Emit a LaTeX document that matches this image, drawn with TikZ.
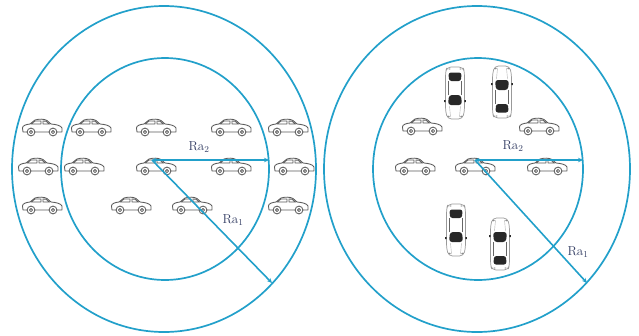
\documentclass[tikz,border=0pt]{standalone}
\usetikzlibrary{arrows.meta}
\definecolor{ringblue}{RGB}{34,160,202}
\definecolor{labelnavy}{RGB}{52,62,100}
\definecolor{cargray}{RGB}{90,90,90}
\definecolor{cardark}{RGB}{40,40,40}

\tikzset{
  ring/.style={draw=ringblue, line width=1.7pt},
  radiusarrow/.style={draw=ringblue, line width=1.6pt, -{Stealth[length=5pt,width=4.5pt]}},
  botharrow/.style={draw=ringblue, line width=1.6pt, {Stealth[length=4pt,width=4pt]}-{Stealth[length=5pt,width=4.5pt]}},
  radlabel/.style={text=labelnavy, font=\fontsize{13}{15}\selectfont, inner sep=0pt},
  % side view of a car facing right
  carside/.pic={
    \begin{scope}[cargray, line width=0.85pt, line join=round, line cap=round]
      \draw[fill=white] (-19,4) -- (-19.5,0)
        .. controls (-19.5,-2.5) and (-16,-3.5) .. (-12,-4)
        -- (-7,-8) .. controls (-3,-9.2) and (2,-9.2) .. (5,-7.5)
        -- (9,-4) .. controls (14,-3.6) and (19,-2.5) .. (20,0)
        -- (20,4) -- cycle;
      \draw (-11,-4) -- (-7,-7) -- (-1,-7) -- (-1,-4) -- cycle;
      \draw (1,-7) -- (4,-6.8) -- (7.5,-4) -- (1,-4) -- cycle;
      \draw[fill=white] (-11,4) circle (3.9);
      \draw (-11,4) circle (1.6);
      \draw[fill=white] (11,4) circle (3.9);
      \draw (11,4) circle (1.6);
    \end{scope}
  },
  % top view of a car, front towards negative y
  cartop/.pic={
    \begin{scope}[line join=round]
      \draw[black!40, line width=0.7pt, fill=white, rounded corners=4pt]
        (-7.5,-26) -- (-9.5,-18) -- (-9.5,21) -- (-8,26) -- (8,26)
        -- (9.5,21) -- (9.5,-18) -- (7.5,-26) -- cycle;
      \fill[cardark, rounded corners=3pt]
        (-7,-12) -- (7,-12) -- (6,-2) -- (-6,-2) -- cycle;
      \fill[cardark, rounded corners=2.5pt]
        (-6,12) -- (6,12) -- (6.5,20.5) -- (-6.5,20.5) -- cycle;
      \draw[black!60, line width=0.5pt] (-6.3,-2) -- (-6.3,12) (6.3,-2) -- (6.3,12);
      \fill[cardark] (-10.8,-9) rectangle (-9.3,-7) (9.3,-9) rectangle (10.8,-7);
      \draw[black!30, line width=0.4pt] (-4.5,-24) -- (-5.5,-13) (4.5,-24) -- (5.5,-13);
      \fill[black!45] (-6.5,-23.5) ellipse (1.4 and 0.8) (6.5,-23.5) ellipse (1.4 and 0.8);
      \fill[black!45] (-5.5,24) ellipse (1.2 and 0.6) (5.5,24) ellipse (1.2 and 0.6);
    \end{scope}
  }
}

\begin{document}
\begin{tikzpicture}[x=1pt, y=-1pt]
  \useasboundingbox (0,0) rectangle (639,335);

  % ---- left: cars on a straight road ----
  \draw[ring] (164,169) ellipse [x radius=152pt, y radius=163pt];
  \draw[ring] (165,169) ellipse [x radius=104pt, y radius=111pt];

  \foreach \cx in {42,91,156,231,288} \pic at (\cx,128) {carside};
  \foreach \cx in {38,84,156,231,294} \pic at (\cx,167) {carside};
  \foreach \cx in {42,131,192,288} \pic at (\cx,206) {carside};

  \coordinate (L0) at (152,160);
  \coordinate (L2) at (269,160);
  \coordinate (L1) at (272,283);
  \draw[botharrow] (L0) -- (L2);
  \draw[radiusarrow] (L0) -- (L1);
  \node[radlabel] (la2) at (199,147) {Ra$_2$};
  \node[radlabel] (la1) at (233,220) {Ra$_1$};

  % ---- right: cars at an intersection ----
  \draw[ring] (477,169) ellipse [x radius=153pt, y radius=163pt];
  \draw[ring] (478,169) ellipse [x radius=105pt, y radius=111pt];

  \pic[rotate=180] at (455,93) {cartop};
  \pic at (502,92) {cartop};
  \pic[rotate=180] at (456,230) {cartop};
  \pic at (500,244) {cartop};

  \pic at (422,127) {carside};
  \pic at (539,127) {carside};
  \pic at (415,167) {carside};
  \pic at (475,167) {carside};
  \pic at (547,167) {carside};

  \coordinate (R0) at (475,160);
  \coordinate (R2) at (583,160);
  \coordinate (R1) at (587,283);
  \draw[botharrow] (R0) -- (R2);
  \draw[radiusarrow] (R0) -- (R1);
  \node[radlabel] (ra2) at (513,146) {Ra$_2$};
  \node[radlabel] (ra1) at (578,252) {Ra$_1$};
\end{tikzpicture}
\end{document}
